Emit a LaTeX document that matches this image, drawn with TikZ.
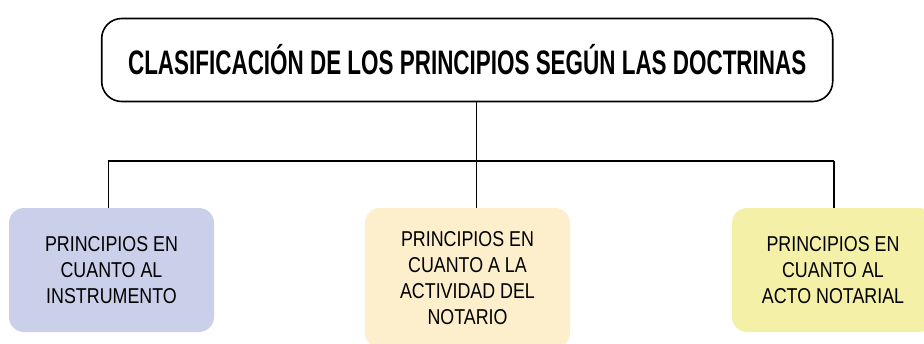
\documentclass[tikz,border=0pt]{standalone}
\usepackage{fontspec}
\setmainfont{Liberation Sans}
\newfontfamily\titlefont[FakeStretch=0.66]{Liberation Sans}
\newfontfamily\boxfont[FakeStretch=0.83]{Liberation Sans}
\usepackage{tikz}
\usetikzlibrary{positioning}
\definecolor{lavanda}{RGB}{203,208,234}
\definecolor{crema}{RGB}{253,238,204}
\definecolor{amarillo}{RGB}{245,240,168}

\begin{document}
\begin{tikzpicture}[
		x=1pt, y=-1pt
		,every node/.append style={align=center, inner sep=0pt}
		,titulo/.style={draw, line width=1.6pt, rounded corners=20pt, minimum width=731pt, minimum height=83pt, font=\titlefont\bfseries\fontsize{34}{40}\selectfont}
		,rama/.style={rounded corners=15pt, minimum width=205pt, minimum height=124pt, font=\boxfont\fontsize{21.5}{26}\selectfont}
		,linea/.style={line width=1.4pt}
	]
		\clip (0,0) rectangle (924,343);
		\node [titulo] (T) at (467.2,60) {CLASIFICACIÓN DE LOS PRINCIPIOS SEGÚN LAS DOCTRINAS};
		\node [rama, fill=lavanda] (A) at (111.5,270) {PRINCIPIOS EN\\CUANTO AL\\INSTRUMENTO};
		\node [rama, fill=crema, minimum height=140pt] (B) at (467.5,278) {PRINCIPIOS EN\\CUANTO A LA\\ACTIVIDAD DEL\\NOTARIO};
		\node [rama, fill=amarillo, minimum width=202pt] (C) at (833,270) {PRINCIPIOS EN\\CUANTO AL\\ACTO NOTARIAL};
		\coordinate (I) at (108.3,161);
		\coordinate (J) at (476.7,161);
		\coordinate (D) at (834,161);
		\draw [linea] (T.south -| J) -- (J);
		\draw [linea] (I) -- (D);
		\draw [linea] (I) -- (I |- A.north);
		\draw [linea] (J) -- (J |- B.north);
		\draw [linea] (D) -- (D |- C.north);
	\end{tikzpicture}
\end{document}
